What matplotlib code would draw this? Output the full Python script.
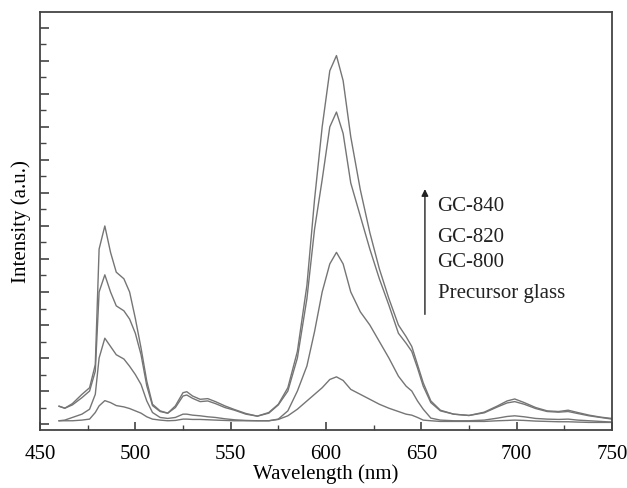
import numpy as np
import matplotlib
matplotlib.use('Agg')
import matplotlib.pyplot as plt
from matplotlib.ticker import MultipleLocator

plt.rcParams['font.family'] = ['Liberation Serif', 'DejaVu Serif']
plt.rcParams['font.size'] = 15

# Longitud de onda (nm), grilla comun para los cuatro espectros
wl = [460, 463, 467, 472, 476, 479, 481, 484, 487, 490, 494, 497, 500, 503, 506,
      509, 513, 517, 521, 525, 527, 530, 534, 538, 542, 547, 552, 558, 564, 570,
      575, 580, 585, 590, 594, 598, 602, 605.5, 609, 613, 618, 623, 628, 633, 638,
      642, 645, 648, 651, 655, 660, 667, 675, 683, 690, 695, 699, 704, 710, 716,
      722, 727, 732, 738, 744, 750]

gc840 = [0.54, 0.48, 0.62, 0.9, 1.1, 1.8, 5.3, 6.0, 5.2, 4.6, 4.4, 4.0, 3.2, 2.3, 1.3,
         0.6, 0.4, 0.33, 0.55, 0.95, 0.98, 0.85, 0.75, 0.77, 0.68, 0.55, 0.44, 0.32, 0.24, 0.35,
         0.6, 1.1, 2.2, 4.2, 6.8, 9.0, 10.7, 11.16, 10.4, 8.7, 7.1, 5.8, 4.7, 3.8, 3.0,
         2.65, 2.35, 1.8, 1.25, 0.7, 0.42, 0.3, 0.26, 0.36, 0.55, 0.7, 0.76, 0.65, 0.5, 0.4,
         0.38, 0.42, 0.35, 0.27, 0.21, 0.17]

gc820 = [0.54, 0.48, 0.58, 0.8, 1.0, 1.6, 4.0, 4.52, 4.0, 3.58, 3.43, 3.18, 2.75, 2.1, 1.16,
         0.56, 0.38, 0.33, 0.5, 0.85, 0.88, 0.78, 0.68, 0.7, 0.62, 0.5, 0.42, 0.3, 0.24, 0.33,
         0.58, 1.0, 2.0, 3.8, 5.9, 7.4, 9.0, 9.45, 8.8, 7.3, 6.3, 5.3, 4.4, 3.6, 2.75,
         2.45, 2.2, 1.7, 1.15, 0.65, 0.4, 0.3, 0.26, 0.34, 0.52, 0.64, 0.68, 0.6, 0.47, 0.38,
         0.36, 0.38, 0.32, 0.25, 0.2, 0.15]

gc800 = [0.1, 0.12, 0.2, 0.3, 0.45, 0.9, 2.0, 2.6, 2.35, 2.1, 1.97, 1.75, 1.5, 1.2, 0.7,
         0.35, 0.2, 0.17, 0.2, 0.3, 0.3, 0.27, 0.25, 0.22, 0.2, 0.16, 0.13, 0.11, 0.1, 0.1,
         0.15, 0.4, 1.0, 1.76, 2.8, 4.0, 4.85, 5.2, 4.85, 4.0, 3.4, 3.0, 2.5, 2.0, 1.45,
         1.15, 1.0, 0.7, 0.45, 0.18, 0.12, 0.1, 0.1, 0.12, 0.18, 0.23, 0.25, 0.22, 0.17, 0.15,
         0.14, 0.15, 0.12, 0.1, 0.08, 0.06]

precursor = [0.1, 0.1, 0.1, 0.12, 0.15, 0.35, 0.55, 0.71, 0.65, 0.56, 0.52, 0.47, 0.4, 0.33, 0.22,
             0.15, 0.12, 0.1, 0.11, 0.15, 0.15, 0.14, 0.14, 0.13, 0.12, 0.11, 0.1, 0.1, 0.1, 0.1,
             0.14, 0.25, 0.45, 0.7, 0.9, 1.1, 1.35, 1.43, 1.32, 1.05, 0.9, 0.75, 0.6, 0.48, 0.38,
             0.3, 0.27, 0.2, 0.12, 0.1, 0.08, 0.08, 0.08, 0.08, 0.1, 0.11, 0.12, 0.11, 0.09, 0.08,
             0.07, 0.07, 0.06, 0.05, 0.05, 0.05]

labels = ['GC-840', 'GC-820', 'GC-800', 'Precursor glass']

fig = plt.figure(figsize=(6.27, 4.89), dpi=100)
ax = fig.add_axes([0.0638, 0.1186, 0.9122, 0.8548])

for serie in [precursor, gc800, gc820, gc840]:
    ax.plot(wl, serie, color='#757575', lw=1.0)

ax.set_xlim(450, 750)
ax.set_ylim(-0.18, 12.48)
ax.xaxis.set_major_locator(MultipleLocator(50))
ax.xaxis.set_minor_locator(MultipleLocator(25))
ax.yaxis.set_major_locator(MultipleLocator(1))
ax.yaxis.set_minor_locator(MultipleLocator(0.5))
ax.tick_params(which='both', direction='in', top=False, right=False, color='#444444')
ax.tick_params(axis='x', which='major', length=6, width=1.2, pad=10)
ax.tick_params(axis='x', which='minor', length=3.5, width=1.0)
ax.tick_params(axis='y', which='major', length=6.5, width=1.2, labelleft=False)
ax.tick_params(axis='y', which='minor', length=4, width=1.0)
for s in ax.spines.values():
    s.set_color('#444444')
    s.set_linewidth(1.3)

ax.set_xlabel('Wavelength (nm)', labelpad=0)
ax.set_ylabel('Intensity (a.u.)', labelpad=3)

# Flecha y etiquetas
ax.annotate('', xy=(0.673, 0.583), xytext=(0.673, 0.27), xycoords='axes fraction',
            arrowprops=dict(arrowstyle='-|>', color='#222222', lw=1.0, mutation_scale=10))
ys = [0.536, 0.462, 0.402, 0.330]
for lab, yy in zip(labels, ys):
    ax.text(0.695, yy, lab, transform=ax.transAxes, va='center', ha='left', color='#222222')

fig.savefig('out.png', dpi=100)
